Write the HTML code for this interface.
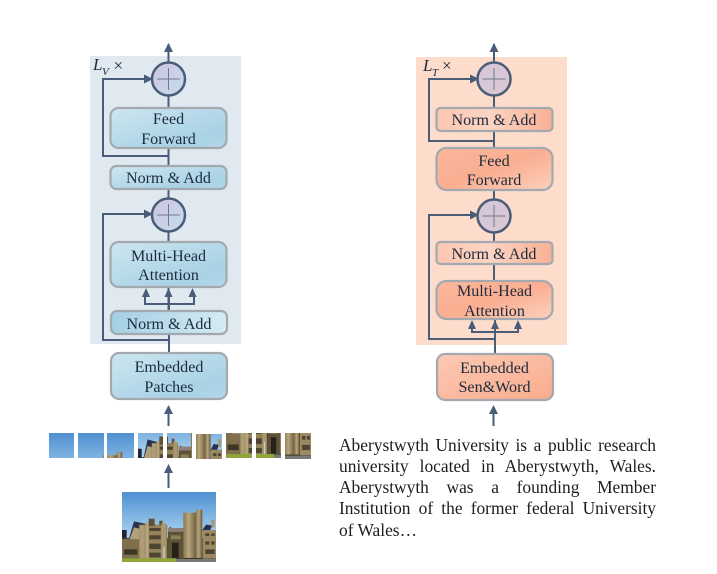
<!DOCTYPE html>
<html><head><meta charset="utf-8">
<style>
html,body{margin:0;padding:0;background:#fff}
body{width:717px;height:574px;overflow:hidden;position:relative}
svg{position:absolute;left:0;top:0}
text{font-family:"Liberation Serif",serif;font-size:16.1px;fill:#1d2b3c;text-anchor:middle}
#para{position:absolute;left:339px;top:434.500px;width:317px;font:17.4px/21.3px "Liberation Serif",serif;color:#1d1d1d}
#para div{text-align:justify;text-align-last:justify}
#para div.l{text-align-last:left}
</style></head><body>
<svg width="717" height="574" viewBox="0 0 717 574" xmlns="http://www.w3.org/2000/svg">
<defs>
<linearGradient id="b1" x1="0" y1="0" x2="1" y2="1"><stop offset="0" stop-color="#cde6f0"/><stop offset=".75" stop-color="#a9d2e5"/><stop offset="1" stop-color="#b2d7e8"/></linearGradient>
<linearGradient id="b2" x1="0" y1="0" x2="1" y2="0"><stop offset="0" stop-color="#a3cfe4"/><stop offset="1" stop-color="#d5ebf3"/></linearGradient>
<linearGradient id="o1" x1="0" y1="0" x2="1" y2="0"><stop offset="0" stop-color="#fbc6b0"/><stop offset=".45" stop-color="#fcd5c4"/><stop offset="1" stop-color="#f9b094"/></linearGradient>
<linearGradient id="o2" x1="0" y1="0" x2="1" y2="1"><stop offset="0" stop-color="#fbb79c"/><stop offset=".5" stop-color="#faae91"/><stop offset="1" stop-color="#fcd0be"/></linearGradient>
<linearGradient id="o3" x1="0" y1="0" x2="1" y2="1"><stop offset="0" stop-color="#fccab5"/><stop offset="1" stop-color="#f9ab8c"/></linearGradient>
<linearGradient id="c1" x1="0" y1="0" x2="1" y2="1"><stop offset="0" stop-color="#d0c4e0"/><stop offset="1" stop-color="#c4dcec"/></linearGradient>
<linearGradient id="c2" x1="0" y1="0" x2="1" y2="1"><stop offset="0" stop-color="#d4c6dc"/><stop offset="1" stop-color="#dcc8d0"/></linearGradient>
<linearGradient id="sky" x1="0" y1="0" x2="0" y2="1"><stop offset="0" stop-color="#4f90d2"/><stop offset=".6" stop-color="#a6cfec"/></linearGradient>
<linearGradient id="tw" x1="0" y1="0" x2="1" y2="0"><stop offset="0" stop-color="#8a7750"/><stop offset=".4" stop-color="#b8a67e"/><stop offset="1" stop-color="#6a5a3c"/></linearGradient>
<symbol id="photo" viewBox="0 0 282 210" preserveAspectRatio="none">
<rect width="282" height="210" fill="url(#sky)"/>
<rect x="0" y="138" width="282" height="72" fill="#3c3526"/>
<rect x="0" y="114" width="14" height="28" fill="#1f2438"/>
<rect x="0" y="140" width="52" height="60" fill="#7f6f4c"/>
<rect x="6" y="172" width="40" height="16" fill="#3d3626"/>
<path d="M20,142L36,88L74,96L54,112V142Z" fill="#2a3150"/>
<path d="M22,142L36,106L52,110V142Z" fill="#b0a07a"/>
<rect x="52" y="98" width="84" height="102" fill="#93825a"/>
<rect x="80" y="80" width="18" height="22" fill="#5d5238"/>
<rect x="112" y="86" width="10" height="14" fill="#5d5238"/>
<rect x="52" y="100" width="16" height="100" fill="#ad9c74"/>
<rect x="70" y="92" width="10" height="108" fill="#b5a57e"/>
<rect x="118" y="94" width="14" height="106" fill="#a8976f"/>
<rect x="82" y="108" width="34" height="9" fill="#4d4532"/>
<rect x="82" y="130" width="34" height="12" fill="#4d4532"/>
<rect x="82" y="155" width="34" height="16" fill="#4d4532"/>
<rect x="82" y="182" width="34" height="14" fill="#4d4532"/>
<rect x="142" y="106" width="6" height="8" fill="#3c3526"/>
<rect x="138" y="108" width="48" height="11" fill="#8c8078"/>
<rect x="138" y="119" width="48" height="81" fill="#5d5238"/>
<rect x="146" y="130" width="30" height="12" fill="#8e7e58"/>
<rect x="150" y="152" width="20" height="46" fill="#26221a"/>
<rect x="184" y="62" width="40" height="136" fill="url(#tw)"/>
<rect x="222" y="53" width="19" height="145" fill="url(#tw)"/>
<path d="M240,116L252,98L272,100L262,118Z" fill="#2a3150"/>
<rect x="268" y="84" width="10" height="22" fill="#a8976f"/>
<rect x="242" y="114" width="40" height="86" fill="#9a8962"/>
<rect x="250" y="124" width="12" height="8" fill="#4d4532"/>
<rect x="268" y="124" width="10" height="8" fill="#4d4532"/>
<rect x="250" y="148" width="12" height="10" fill="#4d4532"/>
<rect x="268" y="148" width="10" height="10" fill="#4d4532"/>
<rect x="250" y="172" width="28" height="14" fill="#4d4532"/>
<rect x="124" y="164" width="4" height="42" fill="#c4ccd4"/>
<rect x="0" y="199" width="162" height="11" fill="#8ea53c"/>
<rect x="162" y="201" width="120" height="9" fill="#777b78"/>
</symbol>
</defs>

<rect x="90" y="56" width="151" height="288" fill="#e0e9f0"/>
<rect x="416" y="57" width="151" height="288" fill="#fddccc"/>

<g fill="none" stroke="#4a5d78" stroke-width="2">
<path d="M168.500 62V44M168.500 96V108M168.500 148V166M168.500 189V200M168.500 232V243M168.500 287V311M169 334V352"/>
<path d="M168 156H103V79H146"/>
<path d="M169 340H103V214H146"/>
<path d="M145 297V304H194V297M169 295V311"/>
<path d="M494 62V44M494 96V108M494 131V148M494 191V200M494 232V243M494 264V282M495 319V353"/>
<path d="M494 141H429V79H472"/>
<path d="M494 339H429V215H472"/>
<path d="M472 328V332H518V328"/>
<path d="M168.500 426V412M168.500 488V470M493.500 426V412"/>
</g>
<g fill="#4a5d78">
<path d="M168.500 43l-4.500 9h9z"/><path d="M494 43l-4.500 9h9z"/>
<path d="M153 79l-9-4.500v9z"/><path d="M153 214l-9-4.500v9z"/>
<path d="M479 79l-9-4.500v9z"/><path d="M479 215l-9-4.500v9z"/>
<path d="M146 288l-4 9h8z"/><path d="M168.500 288l-4 9h8z"/><path d="M192.500 288l-4 9h8z"/>
<path d="M472 320l-4 9h8z"/><path d="M495 320l-4 9h8z"/><path d="M518 320l-4 9h8z"/>
<path d="M168.500 405l-4.500 9h9z"/><path d="M168.500 464l-4.500 9h9z"/><path d="M493.500 405l-4.500 9h9z"/>
</g>

<g stroke="#a3a9ae" stroke-width="2.200">
<rect x="110.500" y="108" width="116" height="40" rx="8" fill="url(#b1)"/>
<rect x="110.500" y="166" width="116" height="23" rx="6" fill="url(#b1)"/>
<rect x="110.500" y="242" width="116" height="45" rx="8" fill="url(#b1)"/>
<rect x="111" y="311" width="116" height="23" rx="6" fill="url(#b2)"/>
<rect x="111" y="353" width="116" height="46" rx="8" fill="url(#b1)"/>
<rect x="436.500" y="108" width="116" height="23" rx="4" fill="url(#o1)"/>
<rect x="436.500" y="148" width="116" height="42" rx="10" fill="url(#o2)"/>
<rect x="436.500" y="242" width="116" height="22" rx="4" fill="url(#o1)"/>
<rect x="436.500" y="281" width="116" height="38" rx="10" fill="url(#o2)"/>
<rect x="437" y="354" width="116" height="46" rx="8" fill="url(#o3)"/>
</g>

<g stroke="#4a5d78" stroke-width="2.500">
<circle cx="168.500" cy="79" r="16.500" fill="url(#c1)"/>
<circle cx="168.500" cy="215" r="16.500" fill="url(#c1)"/>
<circle cx="494" cy="79" r="16.500" fill="url(#c2)"/>
<circle cx="494" cy="216" r="16.500" fill="url(#c2)"/>
</g>
<g stroke="#6d7a90" stroke-width="1">
<path d="M157 79h23M168.500 68v22M157 215h23M168.500 204v22M482.500 79h23M494 68v22M482.500 216h23M494 205v22"/>
</g>

<text x="168.500" y="124">Feed</text><text x="168.500" y="144">Forward</text>
<text x="168.500" y="183">Norm &amp; Add</text>
<text x="168.500" y="261">Multi-Head</text><text x="168.500" y="280">Attention</text>
<text x="169" y="329">Norm &amp; Add</text>
<text x="169" y="372">Embedded</text><text x="169" y="392">Patches</text>
<text x="494" y="125">Norm &amp; Add</text>
<text x="494" y="166">Feed</text><text x="494" y="185">Forward</text>
<text x="494" y="259">Norm &amp; Add</text>
<text x="494.500" y="296">Multi-Head</text><text x="494.500" y="316">Attention</text>
<text x="494.500" y="373">Embedded</text><text x="494.500" y="392">Sen&amp;Word</text>

<text x="93" y="70" style="text-anchor:start;font-style:italic;font-size:17px">L</text>
<text x="102" y="75" style="text-anchor:start;font-style:italic;font-size:11px">V</text>
<text x="113.500" y="71" style="text-anchor:start;font-size:17px">×</text>
<text x="423" y="71" style="text-anchor:start;font-style:italic;font-size:17px">L</text>
<text x="432" y="76" style="text-anchor:start;font-style:italic;font-size:11px">T</text>
<text x="442" y="71" style="text-anchor:start;font-size:17px">×</text>

<use href="#photo" x="122" y="492" width="94" height="70"/>
<svg x="49" y="433" width="25" height="25" viewBox="0 0 94 70" preserveAspectRatio="none"><use href="#photo" width="282" height="210"/></svg>
<svg x="78" y="433" width="26" height="25" viewBox="94 0 94 70" preserveAspectRatio="none"><use href="#photo" width="282" height="210"/></svg>
<svg x="107" y="433" width="27" height="25" viewBox="188 0 94 70" preserveAspectRatio="none"><use href="#photo" width="282" height="210"/></svg>
<svg x="138" y="433" width="25" height="25" viewBox="0 70 94 70" preserveAspectRatio="none"><use href="#photo" width="282" height="210"/></svg>
<svg x="167" y="433" width="25" height="25" viewBox="94 70 94 70" preserveAspectRatio="none"><use href="#photo" width="282" height="210"/></svg>
<svg x="196" y="434" width="26" height="25" viewBox="188 70 94 70" preserveAspectRatio="none"><use href="#photo" width="282" height="210"/></svg>
<svg x="226" y="433" width="26" height="25" viewBox="0 140 94 70" preserveAspectRatio="none"><use href="#photo" width="282" height="210"/></svg>
<svg x="256" y="433" width="25" height="25" viewBox="94 140 94 70" preserveAspectRatio="none"><use href="#photo" width="282" height="210"/></svg>
<svg x="285" y="433" width="26" height="26" viewBox="188 140 94 70" preserveAspectRatio="none"><use href="#photo" width="282" height="210"/></svg>
</svg>
<div id="para">
<div>Aberystwyth University is a public research</div>
<div>university located in Aberystwyth, Wales.</div>
<div>Aberystwyth was a founding Member</div>
<div>Institution of the former federal University</div>
<div class="l">of Wales…</div>
</div>
</body></html>
